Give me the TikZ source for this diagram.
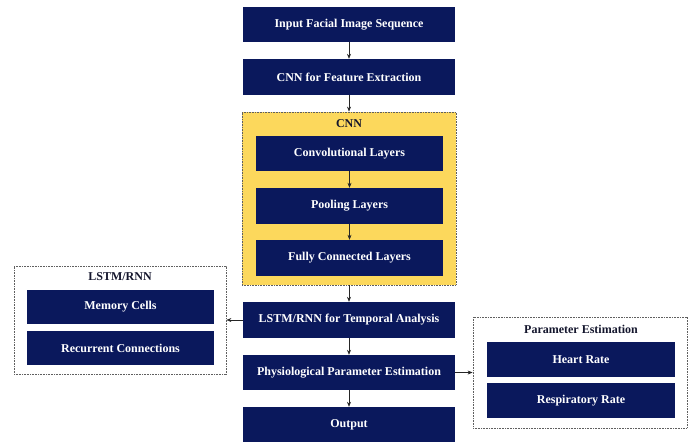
\documentclass[tikz,border=0pt]{standalone}
\usepackage{fontspec}
\setmainfont{Liberation Serif}
\usetikzlibrary{arrows.meta}
\definecolor{navy}{RGB}{10,24,92}
\definecolor{cnnyellow}{RGB}{252,216,92}
\definecolor{framegray}{RGB}{95,95,95}
\definecolor{labelink}{RGB}{20,22,45}

\begin{document}
\begin{tikzpicture}[x=1pt,y=-1pt,
  block/.style={rectangle, fill=navy, text=white, inner sep=0pt,
    minimum width=212pt, minimum height=35pt,
    font=\fontsize{12}{14}\selectfont\bfseries},
  subblock/.style={block, minimum width=187pt},
  group/.style={rectangle, draw=framegray, line width=0.8pt,
    dash pattern=on 0.9pt off 0.7pt, inner sep=0pt},
  grouplabel/.style={text=labelink, inner sep=0pt,
    font=\fontsize{12}{14}\selectfont\bfseries},
  flow/.style={draw=black!85, line width=0.6pt,
    -{Stealth[length=5pt,width=4pt]}}]

  \useasboundingbox (0,0) rectangle (694,442);

  % main pipeline
  \node[block, minimum height=35pt] (input) at (349,24.5) {Input Facial Image Sequence};
  \node[block, minimum height=36pt] (fe) at (349,77) {CNN for Feature Extraction};

  % CNN group
  \node[group, fill=cnnyellow, minimum width=214pt, minimum height=173pt] (cnn) at (349,198.5) {};
  \node[grouplabel] (cnnlabel) at (349,124) {CNN};
  \node[subblock] (conv) at (349.5,153.5) {Convolutional Layers};
  \node[subblock, minimum height=36pt] (pool) at (349.5,206) {Pooling Layers};
  \node[subblock, minimum height=36pt] (fc) at (349.5,258) {Fully Connected Layers};

  \node[block, minimum height=36pt] (lstm) at (349,320) {LSTM/RNN for Temporal Analysis};
  \node[block, minimum height=35pt] (phys) at (349,372.5) {Physiological Parameter Estimation};
  \node[block, minimum height=36pt] (out) at (349,425) {Output};

  % LSTM/RNN group
  \node[group, minimum width=212pt, minimum height=108pt] (lstmgrp) at (120,320) {};
  \node[grouplabel] (lstmlabel) at (120,277) {LSTM/RNN};
  \node[subblock, minimum height=34pt] (mem) at (120.5,307) {Memory Cells};
  \node[subblock, minimum height=34pt] (rec) at (120.5,348) {Recurrent Connections};

  % Parameter estimation group
  \node[group, minimum width=214pt, minimum height=111pt] (paramgrp) at (580,372.5) {};
  \node[grouplabel] (paramlabel) at (581,329) {Parameter Estimation};
  \node[subblock, minimum width=188pt] (hr) at (581,359.5) {Heart Rate};
  \node[subblock, minimum width=188pt] (rr) at (581,400.5) {Respiratory Rate};

  % connectors
  \draw[flow] (input) -- (fe);
  \draw[flow] (fe) -- (cnn);
  \draw[flow] (conv) -- (pool);
  \draw[flow] (pool) -- (fc);
  \draw[flow] (cnn) -- (lstm);
  \draw[flow] (lstm) -- (phys);
  \draw[flow] (phys) -- (out);
  \draw[flow] (lstm.west) -- (lstmgrp.east);
  \draw[flow] (phys.east) -- (paramgrp.west);
\end{tikzpicture}
\end{document}
